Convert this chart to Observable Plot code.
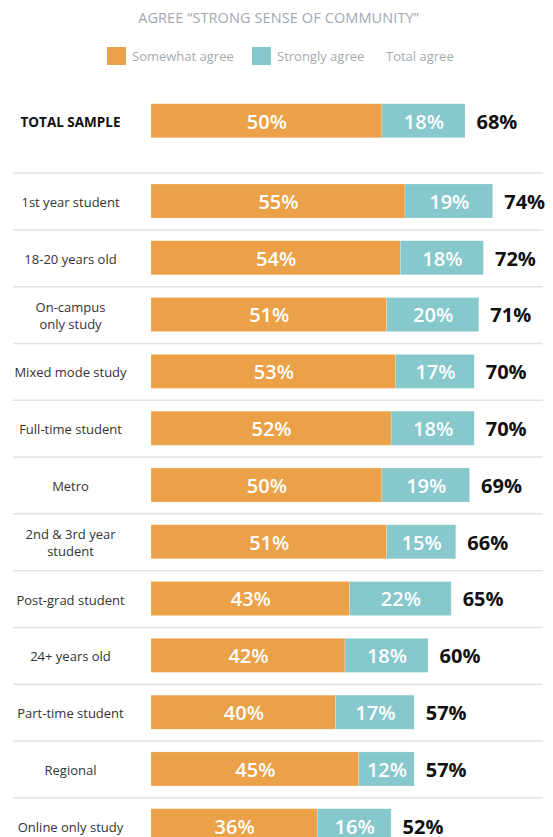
<!DOCTYPE html>
<html>
<head>
<meta charset="utf-8">
<script src="https://cdn.jsdelivr.net/npm/d3@7"></script>
<script src="https://cdn.jsdelivr.net/npm/@observablehq/plot@0.6"></script>
<style>
  html, body { margin: 0; padding: 0; background: #fff; overflow: hidden; }
  #wrap { position: relative; width: 553px; height: 837px; font-family: "Open Sans", sans-serif; }
  #title { position: absolute; left: 0; width: 553px; top: 8px; text-align: center; font-size: 14.5px; color: #a4a8af; letter-spacing: 0.1px; padding-left: 4px; box-sizing: border-box; }
  .sw { position: absolute; width: 19px; height: 18px; top: 47px; }
  .lt { position: absolute; top: 46px; font-size: 13px; color: #a6aab1; line-height: 20px; }
  #p1 { position: absolute; left: 0; top: 81px; }
  #p2 { position: absolute; left: 0; top: 150px; }
</style>
</head>
<body>
<div id="wrap">
  <div id="title">AGREE “STRONG SENSE OF COMMUNITY”</div>
  <div class="sw" style="left:107px;background:#eba147"></div>
  <div class="lt" style="left:132px">Somewhat agree</div>
  <div class="sw" style="left:252px;background:#87c8cc"></div>
  <div class="lt" style="left:277px">Strongly agree</div>
  <div class="lt" style="left:386px">Total agree</div>
  <div id="p1"></div>
  <div id="p2"></div>
</div>
<script>
const categories = ["TOTAL SAMPLE", "1st year student", "18-20 years old", "On-campus\nonly study", "Mixed mode study", "Full-time student", "Metro", "2nd & 3rd year\nstudent", "Post-grad student", "24+ years old", "Part-time student", "Regional", "Online only study"];
const somewhat = [50, 55, 54, 51, 53, 52, 50, 51, 43, 42, 40, 45, 36];
const strongly = [18, 19, 18, 20, 17, 18, 19, 15, 22, 18, 17, 12, 16];
const total = [68, 74, 72, 71, 70, 70, 69, 66, 65, 60, 57, 57, 52];
const seriesNames = ["Somewhat agree", "Strongly agree"];
const seriesColors = ["#eba147", "#87c8cc"];

const rows = categories.map((c, i) => ({label: c, total: total[i], idx: i}));
const segs = [];
categories.forEach((c, i) => {
  segs.push({label: c, series: seriesNames[0], value: somewhat[i]});
  segs.push({label: c, series: seriesNames[1], value: strongly[i]});
});

function makePlot(idxs, height, marginTop, separators, boldLabel) {
  const labs = idxs.map(i => categories[i]);
  const r = rows.filter(d => idxs.includes(d.idx));
  const s = segs.filter(d => labs.includes(d.label));
  const marks = [];
  if (separators) {
    marks.push(Plot.ruleY(r, {y: "label", dy: -28.4, stroke: "#dde3ea", strokeWidth: 1.5, insetLeft: -138, insetRight: -22.6}));
  }
  marks.push(
    Plot.barX(s, Plot.stackX({x: "value", y: "label", fill: "series", z: "series", order: seriesNames, stroke: "#ffffff", strokeOpacity: 0.35, strokeWidth: 0.6})),
    Plot.text(s, Plot.stackX({x: "value", y: "label", z: "series", order: seriesNames, text: d => d.value + "%", fill: "white", fontSize: 20, fontWeight: 600, dy: 1, ariaLabel: "pct-inner"})),
    Plot.text(r, {x: "total", y: "label", text: d => d.total + "%", textAnchor: "start", dx: 11, dy: 1, fill: "#111", fontSize: 20, fontWeight: 700, ariaLabel: "pct-total"}),
    Plot.text(r, {y: "label", text: "label", frameAnchor: "left", textAnchor: "middle", dx: -81, fill: boldLabel ? "#111" : "#333", fontSize: boldLabel ? 13.5 : 13, fontWeight: boldLabel ? 700 : 400, lineHeight: 1.32})
  );
  const svg = Plot.plot({
    width: 553,
    height: height,
    marginLeft: 151,
    marginRight: 32.6,
    marginTop: marginTop,
    marginBottom: 0,
    style: {fontFamily: "Open Sans, sans-serif", background: "transparent", overflow: "visible"},
    x: {domain: [0, 80], axis: null},
    y: {domain: labs, padding: 0.4, round: false, axis: null},
    color: {domain: seriesNames, range: seriesColors},
    marks
  });
  d3.select(svg).selectAll('g[aria-label="pct-inner"] text, g[aria-label="pct-total"] text').each(function() {
    const t = this.textContent;
    if (!t.endsWith("%")) return;
    const isTotal = this.parentNode.getAttribute("aria-label") === "pct-total";
    this.textContent = t.slice(0, -1);
    d3.select(this).append("tspan").attr("font-size", isTotal ? 16.5 : 15.5).attr("font-weight", isTotal ? 700 : 500).text("%");
  });
  return svg;
}

document.getElementById("p1").appendChild(makePlot([0], 79.5, 0, false, true));
document.getElementById("p2").appendChild(makePlot(d3.range(1, 13), 715.5, 11.24, true, false));
</script>
</body>
</html>
